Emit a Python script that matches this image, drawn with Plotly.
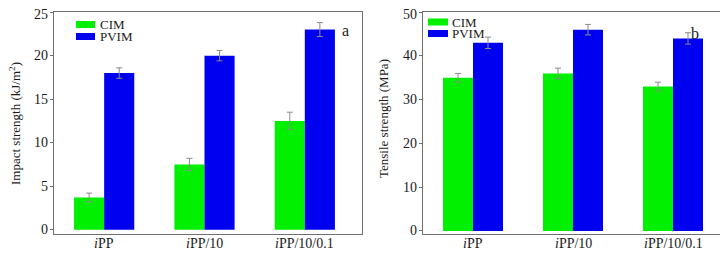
import plotly.graph_objects as go

categories = ["<i>i</i>PP", "<i>i</i>PP/10", "<i>i</i>PP/10/0.1"]
series_names = ["CIM", "PVIM"]

impact_cim = [3.7, 7.5, 12.5]
impact_cim_err = [0.5, 0.7, 1.0]
impact_pvim = [18.0, 20.0, 23.0]
impact_pvim_err = [0.6, 0.6, 0.8]

tensile_cim = [35.0, 36.0, 33.0]
tensile_cim_err = [1.0, 1.2, 1.0]
tensile_pvim = [43.0, 46.0, 44.0]
tensile_pvim_err = [1.3, 1.2, 1.3]

left_ticks = [0, 5, 10, 15, 20, 25]
right_ticks = [0, 10, 20, 30, 40, 50]

left_title = "Impact strength (kJ/m<sup>2</sup>)"
right_title = "Tensile strength (MPa)"

GREEN = "#00f000"
BLUE = "#0000f0"
FONT = "Liberation Serif, Times New Roman, serif"
AXIS_COLOR = "#707070"
ERR_COLOR = "#8c8c8c"
TEXT = "#1a1a1a"

# the page body keeps an 8px margin, so the figure starts at (8, 8) of the window
OFF = 8
W, H = 728 - OFF, 253 - OFF


def px(X):
    return (X - OFF) / W


def py(Y):
    return 1 - (Y - OFF) / H


fig = go.Figure()


def add_bars(vals, errs, name, color, xa, ya):
    fig.add_trace(go.Bar(
        x=categories, y=vals, name=name,
        marker=dict(color=color, line=dict(width=0)),
        error_y=dict(type="data", array=errs, color=ERR_COLOR, thickness=1, width=3),
        xaxis=xa, yaxis=ya, showlegend=False,
    ))


add_bars(impact_cim, impact_cim_err, series_names[0], GREEN, "x", "y")
add_bars(impact_pvim, impact_pvim_err, series_names[1], BLUE, "x", "y")
add_bars(tensile_cim, tensile_cim_err, series_names[0], GREEN, "x2", "y2")
add_bars(tensile_pvim, tensile_pvim_err, series_names[1], BLUE, "x2", "y2")

ytop, ybot = py(12), py(234)
LEFT_AX, RIGHT_AX = 54, 423

xcommon = dict(type="category", showline=True, linecolor=AXIS_COLOR, linewidth=1,
               mirror=True, ticks="", ticklen=0, showgrid=False, zeroline=False,
               automargin=False, showticklabels=False)
ycommon = dict(showline=True, linecolor=AXIS_COLOR, linewidth=1, mirror=True,
               ticks="outside", ticklen=3, tickcolor=AXIS_COLOR, showgrid=False,
               zeroline=False, automargin=False, showticklabels=False)

shapes = []
annotations = []

# legend drawn as swatches + labels
legend_specs = [
    # (swatch x0, x1, [row centre y per series], text x)
    (76, 95, [24.5, 36.5], 98),
    (428, 448, [22, 33.5], 450),
]
colors = [GREEN, BLUE]
for x0, x1, rows, tx in legend_specs:
    for name, col, yc in zip(series_names, colors, rows):
        shapes.append(dict(type="rect", xref="paper", yref="paper",
                           x0=px(x0), x1=px(x1), y0=py(yc + 3.5), y1=py(yc - 3.5),
                           fillcolor=col, line=dict(width=0)))
        annotations.append(dict(text=name, x=px(tx), y=py(yc), xref="paper", yref="paper",
                                xanchor="left", yanchor="middle", showarrow=False,
                                font=dict(family=FONT, size=13, color=TEXT)))

# category labels under each panel
for xref in ("x", "x2"):
    for cat in categories:
        annotations.append(dict(text=cat, x=cat, xref=xref, y=py(243), yref="paper",
                                xanchor="center", yanchor="middle", showarrow=False,
                                font=dict(family=FONT, size=14, color=TEXT)))

# value tick labels placed on each y scale
for yref, ticks, ax_x in (("y", left_ticks, LEFT_AX), ("y2", right_ticks, RIGHT_AX)):
    for t in ticks:
        annotations.append(dict(text=str(t), x=px(ax_x - 4), xref="paper", y=t, yref=yref,
                                xanchor="right", yanchor="middle", showarrow=False,
                                yshift=-2 if t == max(ticks) else 0,
                                font=dict(family=FONT, size=14, color=TEXT)))

# axis titles
annotations += [
    dict(text=left_title, x=px(15), y=py(124), xref="paper", yref="paper",
         textangle=-90, xanchor="center", yanchor="middle", showarrow=False,
         font=dict(family=FONT, size=13, color=TEXT)),
    dict(text=right_title, x=px(383), y=py(119), xref="paper", yref="paper",
         textangle=-90, xanchor="center", yanchor="middle", showarrow=False,
         font=dict(family=FONT, size=13, color=TEXT)),
    dict(text="a", x=px(345), y=py(20), xref="paper", yref="paper",
         showarrow=False, font=dict(family=FONT, size=16, color=TEXT)),
    dict(text="b", x=px(701), y=py(23), xref="paper", yref="paper",
         showarrow=False, font=dict(family=FONT, size=16, color=TEXT)),
]

fig.update_layout(
    width=W, height=H,
    margin=dict(l=0, r=0, t=0, b=0, autoexpand=False),
    paper_bgcolor="white", plot_bgcolor="white",
    barmode="group", bargap=0.4, bargroupgap=0,
    font=dict(family=FONT, color=TEXT),
    showlegend=False,
    xaxis=dict(domain=[px(LEFT_AX), px(362)], anchor="y", range=[-0.5, 2.57], **xcommon),
    yaxis=dict(domain=[ybot, ytop], anchor="x", range=[-0.5, 25.02], tickvals=left_ticks,
               **ycommon),
    xaxis2=dict(domain=[px(RIGHT_AX), px(722)], anchor="y2", range=[-0.5, 2.49], **xcommon),
    yaxis2=dict(domain=[ybot, ytop], anchor="x2", range=[-0.7, 50.04], tickvals=right_ticks,
                **ycommon),
    shapes=shapes,
    annotations=annotations,
)

fig.write_html("out.html")
